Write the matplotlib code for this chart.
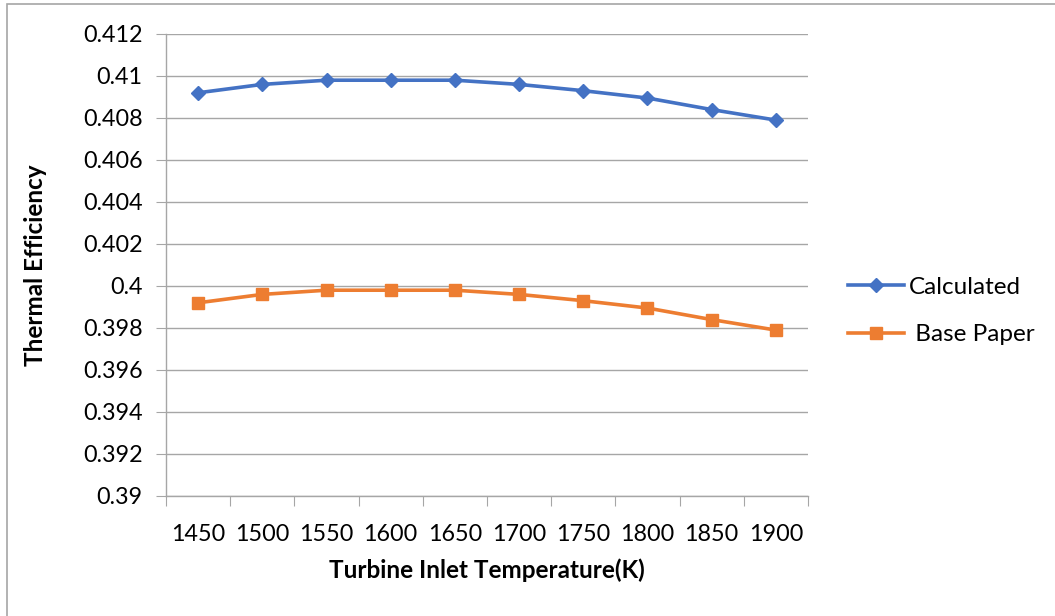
import matplotlib.pyplot as plt
from matplotlib.patches import Rectangle

# chart data
temperatures = [1450, 1500, 1550, 1600, 1650, 1700, 1750, 1800, 1850, 1900]
calculated = [0.4092, 0.4096, 0.4098, 0.4098, 0.4098, 0.4096, 0.4093, 0.40895, 0.4084, 0.4079]
base_paper = [0.3992, 0.3996, 0.3998, 0.3998, 0.3998, 0.3996, 0.3993, 0.39895, 0.3984, 0.3979]
y_ticks = [0.39, 0.392, 0.394, 0.396, 0.398, 0.4, 0.402, 0.404, 0.406, 0.408, 0.41, 0.412]

plt.rcParams['font.family'] = ['Lato', 'DejaVu Sans']

fig = plt.figure(figsize=(10.55, 6.16), dpi=100)
ax = fig.add_axes([166 / 1055, 1 - 496 / 616, (808 - 166) / 1055, (496 - 34) / 616])

# outer chart border (Excel style)
fig.patches.append(Rectangle((6.5 / 1055, -0.1), 1.2, 1 - 4.5 / 616 + 0.1,
                             transform=fig.transFigure, fill=False,
                             edgecolor="#a6a6a6", linewidth=1.2))

x = list(range(len(temperatures)))
ax.plot(x, calculated, color="#4472C4", linewidth=2.6, marker="D", markersize=7,
        label="Calculated")
ax.plot(x, base_paper, color="#ED7D31", linewidth=2.6, marker="s", markersize=8,
        label=" Base Paper")

ax.set_xlim(-0.5, len(temperatures) - 0.5)
ax.set_ylim(0.39, 0.412)
ax.set_yticks(y_ticks)
ax.set_yticklabels([f"{v:g}" for v in y_ticks])
ax.set_xticks([i - 0.5 for i in range(len(temperatures) + 1)])
ax.set_xticklabels([])
ax.set_xticks(x, minor=True)
ax.set_xticklabels([str(t) for t in temperatures], minor=True)
ax.tick_params(axis="x", which="major", length=7, color="#a6a6a6", direction="out")
ax.tick_params(axis="x", which="minor", length=0, pad=20, labelsize=16.8)
ax.tick_params(axis="y", length=7, color="#a6a6a6", pad=10, labelsize=16.8)

ax.grid(axis="y", color="#a6a6a6", linewidth=1.0)
ax.set_axisbelow(True)
for side in ["top", "right"]:
    ax.spines[side].set_visible(False)
for side in ["left", "bottom"]:
    ax.spines[side].set_color("#a6a6a6")
    ax.spines[side].set_linewidth(1.0)

ax.set_xlabel("Turbine Inlet Temperature(K)", fontsize=17.5, fontweight="bold", labelpad=10)
ax.set_ylabel("Thermal Efficiency", fontsize=17.5, fontweight="bold", labelpad=26)

fig.legend(loc="center left", bbox_to_anchor=(848 / 1055, 1 - 311 / 616), frameon=False,
           fontsize=17.5, handlelength=2.3, labelspacing=1.1, handletextpad=0.2,
           borderpad=0, borderaxespad=0)

fig.savefig("out.png", dpi=100)
